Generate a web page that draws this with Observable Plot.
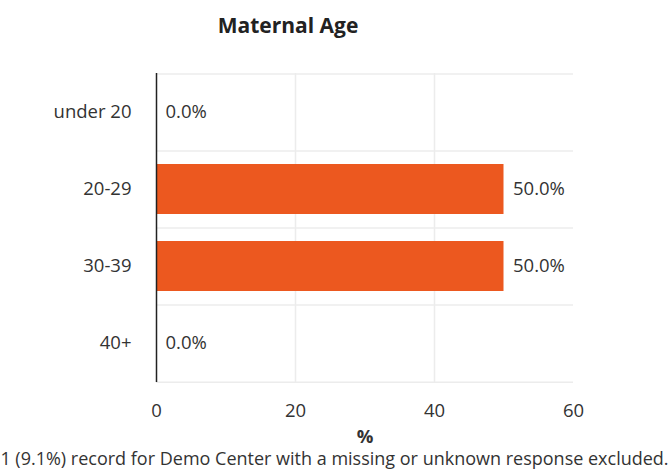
<!DOCTYPE html>
<html>
<head>
<meta charset="utf-8">
<script src="https://cdn.jsdelivr.net/npm/d3@7"></script>
<script src="https://cdn.jsdelivr.net/npm/@observablehq/plot@0.6"></script>
<style>
  html, body { margin: 0; padding: 0; background: #fff; }
  #wrap { position: relative; width: 669px; height: 474px; overflow: hidden; font-family: "Open Sans", sans-serif; }
  #title { position: absolute; left: 188px; width: 200px; top: 10px; text-align: center; font-size: 21px; font-weight: 700; color: #222; line-height: 30px; }
  #note { position: absolute; left: 0; width: 669px; top: 446px; text-align: center; font-size: 18px; color: #333; line-height: 24px; white-space: nowrap; }
  #chart { position: absolute; left: 0; top: 0; }
</style>
</head>
<body>
<div id="wrap">
  <div id="chart"></div>
  <div id="title">Maternal Age</div>
  <div id="note">1 (9.1%) record for Demo Center with a missing or unknown response excluded.</div>
</div>
<script>
// Share of records by maternal age group
const ageGroups = ["under 20", "20-29", "30-39", "40+"];
const percents = [0.0, 50.0, 50.0, 0.0];
const xTicks = [0, 20, 40, 60];
const xLabel = "%";

const rows = ageGroups.map((group, i) => ({group, pct: percents[i]}));

const width = 669, height = 474;
const marginTop = 73, marginBottom = 92, marginLeft = 156, marginRight = 96;
const step = (height - marginTop - marginBottom) / ageGroups.length;

const chart = Plot.plot({
  width, height, marginTop, marginBottom, marginLeft, marginRight,
  style: {fontFamily: "Open Sans", fontSize: "18.5px", color: "#333", background: "#fff"},
  x: {domain: [0, 60], ticks: xTicks},
  y: {domain: ageGroups, paddingInner: 0.35, paddingOuter: 0.175},
  marks: [
    // vertical grid
    Plot.ruleX(xTicks.filter(t => t > 0 && t < 60), {stroke: "#ececec", strokeWidth: 1.5}),
    // horizontal separators between age groups
    Plot.ruleY(ageGroups, {y: d => d, dy: -step / 2, x1: 0, x2: 60, stroke: "#ececec", strokeWidth: 1.5}),
    Plot.ruleY(ageGroups.slice(-1), {y: d => d, dy: step / 2, x1: 0, x2: 60, stroke: "#ececec", strokeWidth: 1.5}),
    Plot.barX(rows, {x: "pct", y: "group", fill: "#ec581f"}),
    Plot.text(rows, {x: "pct", y: "group", text: d => d.pct.toFixed(1) + "%", textAnchor: "start", dx: 9, fill: "#333"}),
    Plot.ruleX([0], {stroke: "#222", strokeWidth: 1.5}),
    Plot.axisY({tickSize: 0, tickPadding: 25, label: null, fill: "#333"}),
    Plot.axisX({ticks: xTicks, tickSize: 0, tickPadding: 21, label: null, fill: "#333"}),
    Plot.text([xLabel], {frameAnchor: "bottom", dy: 60, fontWeight: 700, fill: "#333"})
  ]
});
document.getElementById("chart").appendChild(chart);
</script>
</body>
</html>
